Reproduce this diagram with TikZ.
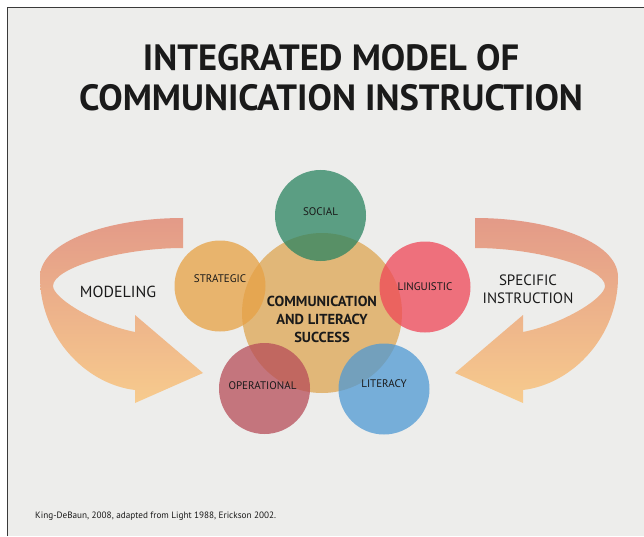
\documentclass[tikz,border=0pt]{standalone}
\usepackage{fontspec}
\setmainfont{PT Sans}
\usetikzlibrary{positioning}
\definecolor{slide}{HTML}{EDEDEB}
\definecolor{frameline}{HTML}{3A3A3A}
\definecolor{inkdark}{HTML}{1A1A1A}
\definecolor{corecol}{HTML}{E1B778}
\definecolor{socialcol}{HTML}{2B8461}
\definecolor{strategiccol}{HTML}{E7A144}
\definecolor{linguisticcol}{HTML}{EF4757}
\definecolor{operationalcol}{HTML}{B74D59}
\definecolor{literacycol}{HTML}{4F99D4}
\definecolor{arrowtop}{HTML}{E39A88}
\definecolor{arrowbot}{HTML}{F7CB8D}

\begin{document}
\begin{tikzpicture}[x=1pt,y=1pt,
  bubble/.style={circle,minimum size=91pt,inner sep=0pt,fill opacity=0.75},
  lbl/.style={text=inkdark,font=\fontsize{11}{13}\selectfont,inner sep=0pt}]
\useasboundingbox (0,0) rectangle (644,536);
\fill[white] (0,0) rectangle (644,536);
\fill[slide] (7,0) rectangle (644,528);
\draw[frameline,line width=1.6pt] (7.5,0) -- (7.5,528.5) -- (644,528.5);

\node[text=inkdark,font=\fontsize{36.5}{40}\selectfont\bfseries] (title1) at (331,478) {INTEGRATED MODEL OF};
\node[text=inkdark,font=\fontsize{36.5}{40}\selectfont\bfseries] (title2) at (331,438) {COMMUNICATION INSTRUCTION};

\foreach \flip/\shift in {1/0,-1/658}{
  \begin{scope}[xshift=\shift pt,xscale=\flip]
    \shade[top color=arrowtop,bottom color=arrowbot]
      (183,318) .. controls (110,318) and (40,295) .. (40,259)
      .. controls (40,200) and (85,152) .. (135,146) -- (135,133) -- (203,163)
      -- (135,221) -- (135,204) .. controls (95,212) and (53,238) .. (53,250)
      .. controls (53,268) and (120,288) .. (183,288) -- cycle;
  \end{scope}
}

\node[circle,minimum size=160pt,inner sep=0pt,fill=corecol] (core) at (322,223) {};
\node[bubble,fill=socialcol] (social) at (320.5,320.5) {};
\node[bubble,fill=strategiccol] (strategic) at (220,250) {};
\node[bubble,fill=linguisticcol] (linguistic) at (425,249) {};
\node[bubble,fill=operationalcol] (operational) at (264.5,147.5) {};
\node[bubble,fill=literacycol] (literacy) at (384,147) {};

\node[lbl] at ([yshift=4pt]social.center) {SOCIAL};
\node[lbl] at ([yshift=7pt]strategic.center) {STRATEGIC};
\node[lbl] at (linguistic.center) {LINGUISTIC};
\node[lbl] at ([xshift=-2pt,yshift=2.5pt]operational.center) {OPERATIONAL};
\node[lbl] at ([yshift=5pt]literacy.center) {LITERACY};
\node[text=inkdark,align=center,font=\fontsize{14.5}{18}\selectfont\bfseries] (coretext) at ([yshift=-6pt]core.center) {COMMUNICATION\\AND LITERACY\\SUCCESS};

\node[text=inkdark,font=\fontsize{16}{18}\selectfont] (modeling) at (118,244) {MODELING};
\node[text=inkdark,align=center,font=\fontsize{15}{18}\selectfont] (specific) at (528,247) {SPECIFIC\\INSTRUCTION};

\node[text=inkdark,anchor=west,inner sep=0pt,font=\fontsize{9.2}{11}\selectfont] (source) at (35,20) {King-DeBaun, 2008, adapted from Light 1988, Erickson 2002.};
\end{tikzpicture}
\end{document}
